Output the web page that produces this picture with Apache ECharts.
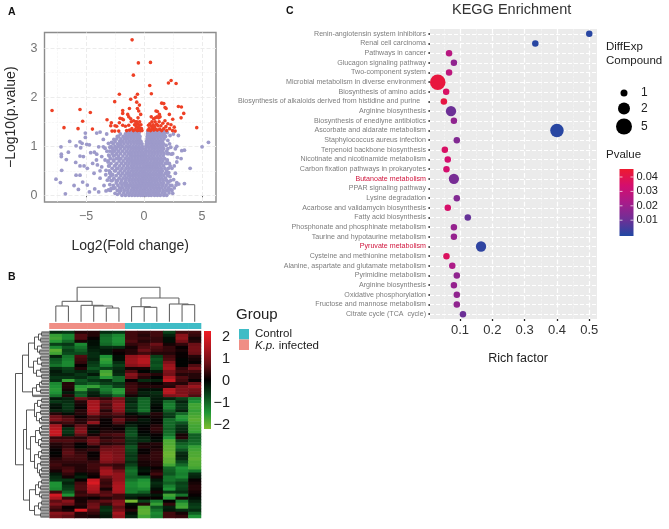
<!DOCTYPE html>
<html><head><meta charset="utf-8">
<style>html,body{margin:0;padding:0;background:#fff}#c{width:669px;height:529px}</style>
<script src="https://cdn.jsdelivr.net/npm/echarts@6/dist/echarts.min.js"></script>
</head><body><div id="c"></div>
<script>
// ---------- Panel A: volcano ----------
const volcanoLevels = [0,.05,.1,.15,.2,.25,.3,.35,.4,.45,.5,.55,.6,.65,.7,.75,.8,.85,.9,.95,1,1.05,1.1,1.15,1.2,1.25,1.3];
const volcanoRows = [
[-1.9,-1.6,-1.3,-1.05,-.8,-.55,-.3,-.1,.15,.4,.62,.9,1.15,1.4,1.7,1.95],
[-2.1,-1.75,-1.45,-1.2,-.95,-.7,-.45,-.2,.05,.3,.5,.75,1,1.25,1.55,1.8,2.15],
[-2.3,-2,-1.7,-1.4,-1.1,-.85,-.6,-.35,-.12,.1,.35,.6,.85,1.1,1.35,1.65,1.95,2.4],
[-2.5,-2.1,-1.85,-1.55,-1.3,-1,-.75,-.5,-.25,0,.22,.5,.75,1,1.25,1.5,1.8,2.1],
[-2.65,-2.25,-1.9,-1.6,-1.35,-1.1,-.85,-.6,-.38,-.15,.08,.32,.55,.8,1.05,1.3,1.6,1.9,2.25],
[-2.4,-2.05,-1.75,-1.5,-1.2,-.95,-.7,-.45,-.2,.02,.25,.48,.7,.95,1.2,1.45,1.7,2.05],
[-2.75,-2.3,-1.95,-1.6,-1.3,-1.05,-.8,-.55,-.3,-.08,.15,.4,.65,.9,1.12,1.38,1.65,1.95,2.3],
[-2.6,-2.15,-1.8,-1.5,-1.22,-.95,-.68,-.42,-.18,.05,.28,.55,.8,1.05,1.3,1.55,1.85],
[-2.85,-2.4,-2,-1.65,-1.35,-1.08,-.82,-.55,-.3,-.1,.12,.38,.62,.88,1.15,1.4,1.7,2.05],
[-2.95,-2.2,-1.85,-1.5,-1.25,-.95,-.7,-.45,-.2,.04,.27,.52,.78,1.02,1.28,1.52,1.85],
[-3,-2.45,-2.05,-1.7,-1.38,-1.1,-.85,-.6,-.35,-.12,.1,.35,.6,.85,1.1,1.35,1.6,1.95],
[-2.75,-2.25,-1.9,-1.55,-1.28,-1,-.72,-.48,-.22,.03,.24,.48,.72,.98,1.22,1.48,1.8,2.1],
[-3.05,-2.55,-2.1,-1.75,-1.42,-1.12,-.88,-.62,-.36,-.1,.13,.38,.63,.88,1.13,1.38,1.68],
[-2.85,-2.35,-1.95,-1.6,-1.3,-1.02,-.75,-.5,-.24,.02,.26,.5,.76,1,1.25,1.52,1.85],
[-3.1,-2.6,-2.15,-1.8,-1.45,-1.15,-.9,-.64,-.38,-.12,.1,.34,.6,.86,1.1,1.36,1.62,1.98],
[-2.9,-2.4,-2,-1.62,-1.32,-1.05,-.78,-.52,-.26,-.03,.2,.46,.72,.97,1.22,1.48,1.78],
[-3,-2.65,-2.2,-1.82,-1.48,-1.18,-.92,-.65,-.4,-.14,.12,.36,.6,.85,1.12,1.38,1.65],
[-2.75,-2.35,-2.02,-1.66,-1.35,-1.08,-.8,-.54,-.28,-.05,.17,.44,.7,.95,1.2,1.46,1.72,2],
[-2.95,-2.55,-2.2,-1.85,-1.5,-1.2,-.94,-.68,-.42,-.16,.12,.34,.58,.84,1.1,1.35,1.6],
[-2.7,-2.4,-2.05,-1.7,-1.38,-1.1,-.82,-.56,-.3,-.12,.14,.42,.68,.92,1.18,1.44,1.7],
[-2.85,-2.5,-2.22,-1.88,-1.54,-1.24,-.96,-.7,-.44,-.16,.16,.34,.58,.82,1.08,1.34,1.6],
[-2.65,-2.3,-2,-1.72,-1.4,-1.12,-.85,-.58,-.32,-.18,.2,.42,.66,.9,1.16,1.42,1.68],
[-2.5,-2.1,-1.85,-1.55,-1.26,-.98,-.72,-.48,-.27,.22,.36,.56,.8,1.06,1.32,1.58],
[-2.35,-2,-1.7,-1.42,-1.14,-.88,-.62,-.38,.26,.46,.7,.94,1.2,1.46,1.72],
[-2.2,-1.8,-1.52,-1.26,-1,-.76,-.52,-.36,.28,.4,.62,.86,1.1,1.36,1.62],
[-2.05,-1.6,-1.32,-1.08,-.84,-.62,-.44,.3,.5,.74,.98,1.22,1.5,1.75],
[-1.45,-1.18,-.95,-.72,-.5,-.42,.32,.46,.64,.88,1.12,1.38,1.62,1.8]
];
const volcanoSparse = [
[-7.16,.99],[-7.13,.84],[-7.13,.79],[-6.41,1.1],[-6.52,.88],[-6.7,.73],[-7.1,.51],[-5.89,.67],[-7.59,.33],[-7.21,.26],[-6.78,.03],[-5.86,.41],[-5.52,.41],[-6.03,.2],[-5.66,.12],[-5.29,.27],[-5.34,1.06],[-5.52,1.09],[-5.86,1.01],[-5.06,1.27],[-5.06,1.18],[-5.46,.97],[-4.94,1.04],[-4.71,1.03],[-5.52,.8],[-5.23,.79],[-5.17,.6],[-5.52,.6],[-4.89,.55],[-4.6,.87],[-4.28,.88],[-4.08,.84],[-4.43,.65],[-4.02,.62],[-3.79,.5],[-4.31,.45],[-4.71,.07],[-4.25,.13],[-3.91,.07],[-4.89,.21],[-3.79,.35],[-3.07,.11],[-2.84,.14],[-3.28,.09],[-4.08,1.27],[-3.79,1.29],[-3.22,1.25],[-3.51,1.14],[-3.91,.99],[-3.65,.79],[-3.36,.72],[-4.1,.72],[-3.65,.58],[-3.28,.51],[-3.16,.31],[-3.51,.99],[-3.36,.96],[-3.07,1.06],[-3.3,.42],[-3.45,.2],[-2.95,.22],
[5,.99],[5.55,1.08],[3.97,.55],[3.48,.24],[2.82,.26],[2.76,.21],[2.99,.23],[3.25,.91],[3.48,.92],[2.87,.77],[3.19,.75],[2.82,.68],[2.47,.85],[2.13,.85],[2.36,.84],[2.96,1.22],[2.53,1.25],[2.24,1.22],[2.82,1],[2.18,.65],[2.13,.46],[2.24,.38],[2.47,.04],[2.4,.55],[2.55,.32],[2.05,1.12],[2.2,1.05],[2.3,.12],
[-3.2,.9],[-3.05,.82],[-2.95,.98],[-2.8,1.08],[-2.7,.9],[-2.6,1.14],[-3.1,.68],[-3,.6],[-2.65,.72],[-2.5,.82],[-2.45,.62],[-2.9,.47],[-2.7,.42],[-2.55,.5],[-3,.36],[-2.85,.3],[-2.9,.1],[-2.65,.14],[-2.4,.3],[-2.5,.04],[-2.3,.02],[-2.15,1.02],[-2.3,1.2],[-2.4,.95],[-2.2,.75],[-2.35,.55],[2.05,.95],[2,.72],[2.05,.42],[2.25,.6],[2.15,.28],[1.95,.65],[2.3,.98],[1.9,1.02],[1.85,1.2],[2,1.28],[2.6,.6],[2.7,.45],[2.6,.15],[2.7,.95],[2.4,.2],[1.95,.9],[2.1,.1]
];
const volcanoSignificant = [
[-1.03,3.17],[-.49,2.7],[.55,2.71],[-.92,2.45],[.49,2.24],[2.33,2.34],[2.1,2.29],[2.76,2.28],[-2.13,2.06],[.63,2.07],[-.57,2.06],[-.75,2],[-1.15,1.96],[-2.53,1.91],[-.63,1.9],[-.4,1.84],[-7.93,1.73],[-5.52,1.75],[-4.63,1.69],[-5.29,1.51],[-6.9,1.38],[-5.69,1.36],[-4.45,1.35],[4.54,1.38],[2.96,1.81],[3.22,1.8],[3.42,1.67],[3.19,1.58],[1.52,1.88],[1.7,1.87],[1.9,1.77],[1.03,1.72],[1.15,1.71],[1.81,1.79],[2.18,1.65],[2.47,1.55],[1.32,1.65],[1.38,1.6],[1.26,1.58],[-1.26,1.77],[-1.84,1.73],[-1.41,1.65],[-1.84,1.67],[-.57,1.77],[-.46,1.72],[-.52,1.58],[-.29,1.65],[-3.19,1.54],[-2.82,1.48],[-2.87,1.42],[-2.07,1.57],[-1.9,1.56],[-1.78,1.54],[-1.32,1.6],[-1.15,1.56],[-2.13,1.48],[-1.84,1.43],[-1.61,1.41],[-2.36,1.41],[-2.5,1.42],[-2.76,1.31],[-2.53,1.31],[-2.18,1.31],[-1.32,1.43],
[-1.5,1.32],[-1.25,1.33],[-1.05,1.36],[-.92,1.32],[-.82,1.44],[-.75,1.34],[-.68,1.4],[-.62,1.5],[-.58,1.32],[-.54,1.38],[-.5,1.45],[-.46,1.33],[-.42,1.42],[-.38,1.5],[-.34,1.36],[-.3,1.32],[-.27,1.44],[-.22,1.36],[-.66,1.46],[-.72,1.5],[-.18,1.32],[-1.1,1.5],[-.9,1.52],
[.34,1.33],[.38,1.43],[.44,1.36],[.5,1.46],[.56,1.32],[.62,1.41],[.68,1.5],[.72,1.36],[.78,1.44],[.84,1.33],[.9,1.4],[.95,1.5],[1,1.35],[1.08,1.45],[1.14,1.33],[1.2,1.42],[1.3,1.5],[1.35,1.35],[1.45,1.42],[1.52,1.32],[1.62,1.47],[1.7,1.36],[1.8,1.52],[1.88,1.4],[1.95,1.32],[2.05,1.46],[2.2,1.36],[2.32,1.44],[2.45,1.32],[2.6,1.39],[2.68,1.31],[.82,1.56],[.98,1.58],[.62,1.6],[1.12,1.6]
];
const volcanoAll = [];
volcanoRows.forEach((r,i)=>r.forEach(x=>volcanoAll.push([x,volcanoLevels[i]])));
volcanoSparse.forEach(p=>volcanoAll.push(p));

// ---------- Panel B: heatmap ----------
const sampleNames = ['S1','S2','S3','S4','S5','S6','S7','S8','S9','S10','S11','S12'];
const sampleGroup = ['K.p. infected','K.p. infected','K.p. infected','K.p. infected','K.p. infected','K.p. infected','Control','Control','Control','Control','Control','Control'];
const heatValues = [
[-.4,-.5,.3,.3,-.4,-.5,.5,.4,.5,-.6,.5,.5],
[-1.6,-1.3,.6,.3,-1,-1.3,.5,.3,.5,-.3,1.1,.4],
[-1.7,-1.3,.6,.1,-1.1,-1.4,.5,.4,.4,-.1,1.2,.2],
[-1.5,-1,.2,-.1,-1.1,-1.4,.6,.3,.4,-.1,.9,.3],
[-.6,-.5,-1.3,-.1,-1,-1.3,.4,.5,.8,.2,.4,.8],
[-1.3,-.8,-1.1,-.2,-.4,-.4,.2,.6,.6,.4,.1,.9],
[-1.9,-.6,-.9,-.3,-.2,.2,.3,.8,.5,.4,.2,.9],
[-1.7,-.7,-.7,-.4,-.2,.1,.3,.5,.3,.3,.1,.8],
[-.3,-1.1,.6,-.4,-1.4,-.1,1.2,1.4,-.6,.5,.1,.3],
[-.8,-1.2,.5,-.3,-1.6,-.1,1.3,1.6,-.8,.6,0,.2],
[-.9,-1.3,.4,-.5,-1.5,-.4,1.3,1.6,-.7,1,0,.1],
[-1.1,-1.3,.1,-.6,-1.2,-.6,1.1,1.3,-.8,1.3,0,.6],
[-.4,-.6,.3,-.8,-.6,-.4,.2,.2,-.7,1.4,.4,.9],
[-.2,-.5,-.3,-.5,-1.7,-.3,.6,0,-.2,1,.5,.5],
[-.3,-.3,-.5,-.2,-1.8,-.4,1.1,.5,.3,.9,.3,.3],
[-.5,-.5,-.4,-.7,-1.5,-1,.9,.3,0,1.5,.6,.3],
[-.4,-1.6,-.8,-.5,-.4,-1,.1,-.4,-.3,1.8,.5,.1],
[-1.3,.3,-.7,-.9,-.6,-.5,.4,.2,.1,.4,.3,.8],
[-1.4,.3,-1.5,-1.6,-1.1,-.6,.5,.3,.3,.3,.9,1.3],
[-1.5,.2,-1.6,-.6,-1.2,-1.5,.5,-.1,-.1,1.6,1,.9],
[-1.4,-.2,-.8,-.3,-1,-1.5,.4,-.3,-.4,1.6,1,.8],
[-1.1,.3,-.9,-.2,-.5,-1,.2,-.2,-.3,1,1.1,.6],
[-.2,-.3,.8,.6,.4,.9,-.4,-.9,-.2,-.3,-.6,-1.2],
[-.5,-.4,.3,1.4,.7,1.1,-.3,-1,-.2,-1,-.3,-1.4],
[-.2,-.5,.2,1.4,.5,1.3,-.5,-1,-.1,-1.2,-.5,-1.7],
[-.1,-.5,.1,1.5,.6,1.2,-.4,-1,0,-1.2,-.5,-1.7],
[-.3,-.4,.3,1.4,.3,1.1,-.5,-1.1,-.1,-.9,-.3,-1.6],
[.3,-.1,.3,1.2,.5,.7,-.1,-.4,.3,-.6,-1,-1.7],
[.8,.5,.1,.5,.3,.4,.2,.1,.2,-.5,-1.5,-1.8],
[1,.7,.3,.5,.1,.8,.3,-.2,.1,-1,-1.4,-1.9],
[.4,.5,.3,1.2,.1,.6,-.1,-.1,.1,-1,-.8,-1.8],
[1.4,.2,.7,.2,.1,.2,-.3,0,.3,-1,-.5,-1.7],
[1.6,-.4,1,.1,.2,.1,-.6,.1,.4,-.9,-.4,-1.7],
[1.8,-.5,1.1,-.1,.3,.3,-.7,0,.3,-1,-.3,-1.6],
[1.7,-.3,.7,.2,.5,.6,-.8,-.1,.1,-1.1,.2,-.9],
[.4,.4,.3,.7,.3,.4,-.6,-.3,0,-1.4,.3,-.9],
[.6,.6,.5,.9,.5,.6,-.5,-.4,-.1,-1.8,-.6,-1],
[.3,.4,.1,.7,.3,.4,-.5,.2,.3,-1.8,-.9,-1.1],
[.2,.4,0,.2,.7,.8,-.8,.3,.2,-1.9,-1.1,-1.6],
[.1,.6,.3,.4,.9,.9,-.7,.1,.3,-1.9,-.8,-1.7],
[0,.7,.4,.1,1.1,.9,-.6,.1,.4,-2,-.4,-1.8],
[.1,.6,.5,.1,1.2,1,-.5,.3,.4,-2,-.3,-1.8],
[.3,.5,.5,.2,1.2,1,-.6,.3,.4,-1.9,-.4,-1.9],
[.4,.4,.4,.4,1,.8,-.4,.2,.3,-1.9,-.7,-1.8],
[.5,.3,.3,.5,.5,.4,-.6,.2,.3,-1.7,-1,-1.8],
[.4,.5,.3,.5,1.1,.5,-.9,-.1,.1,-1,-1.4,-1.7],
[.2,.6,.3,.4,1.4,.9,-1.1,-.2,.3,-.9,-1.3,-1.1],
[-.2,.4,-.1,.2,1.4,1.2,-1,0,.5,-.8,-1.2,-.4],
[-.4,.2,-.3,.1,.8,1.2,-.9,-.8,.2,-1.1,-1.3,-.3],
[-.5,-.5,.1,1.8,.5,1.2,-1.1,-1.4,-.2,-1.1,-.9,.1],
[-1.4,-.3,.5,2,.4,1.4,-1.3,-1.5,-.4,-.9,-.6,.2],
[-1.4,-.5,.6,1.6,.5,1.5,-1.3,-1.5,-.3,-1.2,-.7,.3],
[-1.3,-.6,.6,1.5,.2,1.5,-1.2,-1.3,-.1,-1.4,-.6,.3],
[.5,-.9,.4,1.3,.6,1.4,-1.2,-.9,.2,-.5,-.4,.2],
[1.9,-1.4,.5,.5,.7,.5,-.4,-.4,-.2,-1.7,-1.1,.1],
[1.5,.4,.2,.1,.3,.5,-.2,.1,.1,-1.5,.2,-.1],
[.7,1.1,.2,.6,.7,1,-2.1,-.6,-1.2,0,-1.2,-.3],
[1,.8,.3,.8,.4,1.1,-.1,.3,-1.6,.4,-1.6,-.5],
[.6,.1,.2,.9,-.4,.7,.1,-1.8,-.8,-.3,-1.7,-.6],
[.4,.2,2,.6,-.5,.9,.3,-1.9,-1.1,-.2,-.4,-.4],
[1.1,1,.3,.4,-.3,1.4,-.1,-1.9,-1.3,.5,.2,-.9],
[.9,.7,.3,.2,-.2,1.2,-.3,-1.7,-1.2,.5,.4,-1.4]
];
const rowNames = heatValues.map((_, i)=>'g'+i);
// trees: [height, childA, childB]; a bare number is a leaf index
const columnTree = [103,[61,[47,0,1],[49,2,[47,3,[41,4,5]]]],[71,[45,6,[43,7,8]],[53,9,[51,10,11]]]];
const rowTree = [34,
 [27,[21,[15,[11,[8,0,1],[9,2,3]],[12,[8,4,5],[10,6,7]]],[16,[12,[9,8,9],[8,10,11]],[13,[9,12,13],[8,14,15]]]],[17,[13,[10,[8,16,17],18],[9,19,20]],21]],
 [26,[23,[15,[12,[8,22,23],[9,24,25]],[13,[9,26,27],[10,[8,28,29],30]]],[19,[14,[10,[8,31,32],[9,33,34]],[11,[8,35,36],[9,37,38]]],[15,[11,[8,39,40],[9,41,42]],[12,[9,43,44],[10,[8,45,46],[9,47,48]]]]]],
  [20,[14,[11,[8,49,50],[9,51,52]],[10,53,[8,54,55]]],[15,[11,[8,56,57],[9,58,59]],[9,60,61]]]]];
const heatColorStops = ['#80bd30','#1f9636','#0a4a1c','#000000','#6a0f16','#b0161f','#f01c24'];
const heatTicks = [2,1,0,-1,-2];

// ---------- Panel C: KEGG bubbles ----------
const pathways = ['Renin-angiotensin system inhibitors','Renal cell carcinoma','Pathways in cancer','Glucagon signaling pathway','Two-component system','Microbial metabolism in diverse environment','Biosynthesis of amino acids','Biosynthesis of alkaloids derived from histidine and purine   ','Arginine biosynthesis','Biosynthesis of enediyne antibiotics','Ascorbate and aldarate metabolism','Staphylococcus aureus infection','Terpenoid backbone biosynthesis','Nicotinate and nicotinamide metabolism','Carbon fixation pathways in prokaryotes','Butanoate metabolism','PPAR signaling pathway','Lysine degradation','Acarbose and validamycin biosynthesis','Fatty acid biosynthesis','Phosphonate and phosphinate metabolism','Taurine and hypotaurine metabolism','Pyruvate metabolism','Cysteine and methionine metabolism','Alanine, aspartate and glutamate metabolism','Pyrimidine metabolism','Arginine biosynthesis','Oxidative phosphorylation','Fructose and mannose metabolism','Citrate cycle (TCA  cycle)'];
const highlighted = ['Butanoate metabolism','Pyruvate metabolism'];
const richFactor = [.5,.333,.066,.081,.066,.031,.057,.05,.072,.081,.4,.09,.053,.062,.058,.081,null,.09,.062,.124,.081,.081,.165,.058,.076,.09,.081,.09,.09,.109];
const pValue = [.001,.001,.027,.018,.028,.043,.036,.042,.011,.018,.001,.015,.036,.034,.034,.013,null,.015,.035,.01,.019,.019,.002,.037,.024,.018,.019,.018,.018,.011];
const diffExp = [1,1,1,1,1,5,1,1,2,1,4,1,1,1,1,2,null,1,1,1,1,1,2,1,1,1,1,1,1,1];
const bubbleDiameter = {1:6.5,2:10.3,4:13.5,5:15.5};
const legendSizes = [1,2,5];
const legendDiameters = [7,12,16];
const pColorStops = ['#2148a3','#6f2f96','#a81c8a','#d40e6e','#ee1a30'];
const pTicks = ['0.04','0.03','0.02','0.01'];
const richTicks = [.1,.2,.3,.4,.5];

// ---------- helpers ----------
function vline(v,w,c){return {xAxis:v,lineStyle:{width:w,color:c}}}
function hline(v,w,c){return {yAxis:v,lineStyle:{width:w,color:c}}}
function guides(xi,yi,data,z){return {type:'scatter',xAxisIndex:xi,yAxisIndex:yi,data:[],z:z||1,silent:true,
  markLine:{silent:true,z:1,symbol:'none',animation:false,label:{show:false},data:data}}}
function walk(node,segs){
  if(typeof node==='number') return {p:node,h:0};
  const a=walk(node[1],segs),b=walk(node[2],segs),h=node[0];
  segs.push([a.p,a.h,a.p,h],[b.p,b.h,b.p,h],[a.p,h,b.p,h]);
  return {p:(a.p+b.p)/2,h:h};
}
function dendroSeries(tree,xi,yi,horizontal,color,w,stubColor,stubW){
  const segs=[];walk(tree,segs);
  const data=horizontal?segs.map(s=>[-s[1],s[0],-s[3],s[2],s[1]===0&&s[0]===s[2]?1:0]):segs.map(s=>[s[0],s[1],s[2],s[3],0]);
  return {type:'custom',xAxisIndex:xi,yAxisIndex:yi,silent:true,clip:false,
    encode:{x:[0,2],y:[1,3]},data:data,
    renderItem:(p,api)=>{const A=api.coord([api.value(0),api.value(1)]),B=api.coord([api.value(2),api.value(3)]);
      const stub=api.value(4)===1;
      return {type:'line',z2:stub?0:1,shape:{x1:A[0],y1:A[1],x2:B[0],y2:B[1]},style:{stroke:stub?stubColor:color,lineWidth:stub?stubW:w,fill:null}};}};
}
function txt(x,y,t,font,fill,align){return {type:'text',x:x,y:y,silent:true,style:{text:t,font:font,fill:fill||'#222',align:align||'left',verticalAlign:'middle'}}}
function barGradient(x,y,w,h,stops){ // top of the bar = last stop
  const n=stops.length-1;
  return {type:'rect',silent:true,z:100,shape:{x:x,y:y,width:w,height:h},
    style:{fill:new echarts.graphic.LinearGradient(0,1,0,0,stops.map((c,i)=>({offset:i/n,color:c})))}};
}
const F='"Liberation Sans",Arial,sans-serif';
const hiddenVal=(i,min,max,inv)=>({type:'value',gridIndex:i,min:min,max:max,show:false,inverse:!!inv});
const heatData=[];heatValues.forEach((r,y)=>r.forEach((v,x)=>heatData.push([x,y,v])));
const aMinor=[-7.5,-2.5,2.5], aMajor=[-5,0,5], aMinorY=[.5,1.5,2.5], aMajorY=[0,1,2,3];
const cMinor=[.05,.15,.25,.35,.45];
const hLines=pathways.map((_,i)=>hline(i,1,'#ffffff'));
const bubbleData=richFactor.map((x,i)=>x===null?null:[x,i,pValue[i],diffExp[i]]).filter(Boolean);

const graphics=[
 txt(8,12,'A','bold 10.5px '+F,'#111'),txt(8,277,'B','bold 10.5px '+F,'#111'),txt(286,11,'C','bold 10.5px '+F,'#111'),
 txt(236,315,'Group','15px '+F,'#222'),
 {type:'rect',silent:true,shape:{x:239,y:329,width:10,height:10.5},style:{fill:'#3fbcc6'}},
 {type:'rect',silent:true,shape:{x:239,y:339.5,width:10,height:10.5},style:{fill:'#f08e85'}},
 txt(255,334,'Control','11.5px '+F,'#222'),
 {type:'text',x:255,y:346,silent:true,style:{text:'{i|K.p.} infected',font:'11.5px '+F,fill:'#222',verticalAlign:'middle',rich:{i:{fontStyle:'italic',fontSize:11.5,fontFamily:'Liberation Sans',fill:'#222'}}}},
 txt(606,46.5,'DiffExp','11.5px '+F,'#222'),txt(606,61,'Compound','11.5px '+F,'#222'),
 txt(606,155,'Pvalue','11.5px '+F,'#222'),
 barGradient(204,331,7,98,heatColorStops),
 barGradient(619.5,169,14,67,pColorStops)
];
heatTicks.forEach((v,i)=>graphics.push(txt(230,337+22*i,(v<0?'\u2212':'')+Math.abs(v),'14.5px '+F,'#222','right')));
legendSizes.forEach((v,i)=>{
  const y=[93,108.5,126.5][i];
  graphics.push({type:'circle',silent:true,shape:{cx:624,cy:y,r:legendDiameters[i]/2},style:{fill:'#000'}});
  graphics.push(txt(641,y,String(v),'12px '+F,'#222'));
});
pTicks.forEach((t,i)=>{
  const y=177+14.4*i;
  graphics.push(txt(636.5,y,t,'11px '+F,'#222'));
  graphics.push({type:'line',silent:true,z:200,shape:{x1:619.5,y1:y,x2:622.5,y2:y},style:{stroke:'#fff',lineWidth:.7}});
  graphics.push({type:'line',silent:true,z:200,shape:{x1:630.5,y1:y,x2:633.5,y2:y},style:{stroke:'#fff',lineWidth:.7}});
});

const option={
 animation:false,backgroundColor:'#fff',textStyle:{fontFamily:'Liberation Sans'},
 title:{text:'KEGG Enrichment',left:452,top:2,padding:0,textStyle:{fontSize:14.5,fontWeight:'normal',color:'#333',fontFamily:'Liberation Sans'}},
 tooltip:{show:false},
 grid:[
  {left:44.5,top:32.5,width:171.5,height:169.5,show:true,backgroundColor:'#fff',borderColor:'#8c8c8c',borderWidth:1.4,z:0},
  {left:49.5,top:331,width:151.5,height:187},
  {left:49.5,top:287.3,width:151.5,height:34.4},
  {left:49.5,top:323,width:151.5,height:6},
  {left:15,top:331,width:34.5,height:187},
  {left:430,top:29,width:167,height:290,show:true,backgroundColor:'#ebebeb',borderWidth:0}
 ],
 xAxis:[
  {type:'value',gridIndex:0,min:-8.58,max:6.2,splitLine:{show:false},
   axisLine:{show:false},axisTick:{show:true,length:2,customValues:aMajor,lineStyle:{color:'#666'}},
   axisLabel:{customValues:aMajor,margin:8,fontSize:12.5,color:'#747474',formatter:v=>v<0?'\u2212'+(-v):String(v)},
   name:'Log2(Fold change)',nameLocation:'middle',nameGap:37,nameTextStyle:{fontSize:14,color:'#2a2a2a'}},
  {type:'category',gridIndex:1,data:sampleNames,show:false},
  hiddenVal(2,-.5,11.5),
  {type:'category',gridIndex:3,data:sampleNames,show:false},
  hiddenVal(4,-34.5,0),
  {type:'value',gridIndex:5,min:.007,max:.524,splitLine:{show:false},axisLine:{show:false},
   axisTick:{show:true,length:2,customValues:richTicks,lineStyle:{color:'#222',width:1.3}},
   axisLabel:{customValues:richTicks,margin:5,fontSize:13,color:'#333',formatter:v=>v.toFixed(1)},
   name:'Rich factor',nameLocation:'middle',nameGap:33,nameTextStyle:{fontSize:12.5,color:'#222',padding:[0,0,0,9]}}
 ],
 yAxis:[
  {type:'value',gridIndex:0,min:-.136,max:3.32,splitLine:{show:false},axisLine:{show:false},
   axisTick:{show:true,length:2,customValues:aMajorY,lineStyle:{color:'#666'}},
   axisLabel:{customValues:aMajorY,margin:7,fontSize:12.5,color:'#747474'},
   name:'\u2212Log10(p.value)',nameLocation:'middle',nameGap:26.5,nameTextStyle:{fontSize:14,color:'#2a2a2a'}},
  {type:'category',gridIndex:1,data:rowNames,inverse:true,show:false},
  hiddenVal(2,0,103),
  {type:'value',gridIndex:3,min:0,max:1,show:false},
  hiddenVal(4,-.5,61.5,true),
  {type:'category',gridIndex:5,data:pathways,inverse:true,
   axisLine:{show:false},splitLine:{show:false},
   axisTick:{show:true,length:1.6,alignWithLabel:true,lineStyle:{color:'#222',width:1.6}},
   axisLabel:{interval:0,fontSize:7.1,margin:4,padding:[0,0,5,0],
     color:(v)=>highlighted.indexOf(v)>=0?'#d0143c':'#7d7d7d'}}
 ],
 visualMap:[
  {type:'continuous',show:false,seriesIndex:3,dimension:2,min:-2.18,max:2.27,inRange:{color:heatColorStops}},
  {type:'continuous',show:false,seriesIndex:8,dimension:2,min:0,max:.0455,inRange:{color:pColorStops}}
 ],
 series:[
  guides(0,0,[...aMinor.map(v=>vline(v,.6,'#f2f2f2')),...aMajor.map(v=>vline(v,1,'#ececec')),...aMinorY.map(v=>hline(v,.6,'#f2f2f2')),...aMajorY.map(v=>hline(v,1,'#ececec'))]),
  {type:'scatter',xAxisIndex:0,yAxisIndex:0,z:2,silent:true,data:volcanoAll,symbolSize:3.8,itemStyle:{color:'#9d9aca',opacity:1}},
  {type:'scatter',xAxisIndex:0,yAxisIndex:0,z:3,silent:true,data:volcanoSignificant,symbolSize:3.6,itemStyle:{color:'#ee4025',opacity:1}},
  {type:'heatmap',xAxisIndex:1,yAxisIndex:1,silent:true,data:heatData,progressive:0,emphasis:{disabled:true}},
  dendroSeries(columnTree,2,2,false,'#666',1.1,'#666',1.1),
  {type:'custom',xAxisIndex:3,yAxisIndex:3,silent:true,clip:false,encode:{x:0,y:1},
   data:sampleGroup.map((g,i)=>[i,1,g==='Control'?1:0]),
   renderItem:(p,api)=>{const i=api.value(0),T=api.coord([i,1]),B=api.coord([i,0]),w=api.size([1,0])[0];
     const ctrl=api.value(2)===1;
     return {type:'rect',shape:{x:T[0]-w/2-.3,y:T[1],width:w+.6,height:B[1]-T[1]},style:{fill:ctrl?'#3fbcc6':'#f08e85'}};}},
  dendroSeries(rowTree,4,4,true,'#444',.9,'#777',2.5),
  guides(5,5,[...cMinor.map(v=>vline(v,.6,'#f6f6f6')),...richTicks.map(v=>vline(v,1.2,'#ffffff')),...hLines]),
  {type:'scatter',xAxisIndex:5,yAxisIndex:5,z:3,silent:true,clip:false,data:bubbleData,
   encode:{x:0,y:1},symbolSize:d=>bubbleDiameter[d[3]],itemStyle:{opacity:1}}
 ],
 graphic:{elements:graphics}
};
const chart=echarts.init(document.getElementById('c'),null,{renderer:'canvas'});
chart.setOption(option);
</script></body></html>
